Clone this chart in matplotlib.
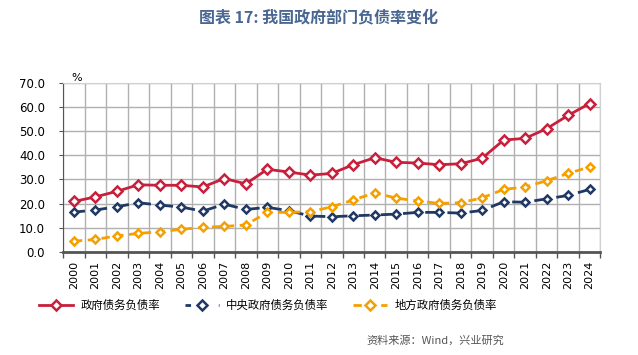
import matplotlib
matplotlib.use("Agg")
import matplotlib.pyplot as plt
from matplotlib.lines import Line2D

plt.rcParams['font.family'] = ['Noto Sans CJK SC', 'DejaVu Sans']

# 年份
years = [str(y) for y in range(2000, 2025)]

# 政府债务负债率 (%)
total_debt = [20.9, 22.8, 25.1, 27.8, 27.6, 27.6, 26.9, 30.4, 28.2, 34.2, 33.1, 31.8,
              32.5, 36.1, 39.0, 37.1, 36.8, 36.1, 36.5, 38.8, 46.3, 47.0, 51.0, 56.5, 61.4]
# 中央政府债务负债率 (%)
central_debt = [16.5, 17.4, 18.7, 20.4, 19.4, 18.6, 16.9, 19.8, 17.6, 18.5, 17.1, 14.9,
                14.6, 15.0, 15.3, 15.7, 16.4, 16.4, 16.1, 17.2, 20.8, 20.6, 22.0, 23.4, 25.9]
# 地方政府债务负债率 (%)
local_debt = [4.5, 5.2, 6.7, 7.7, 8.4, 9.4, 10.2, 10.6, 11.2, 16.4, 16.4, 16.7,
              18.7, 21.5, 24.5, 22.3, 21.1, 20.1, 20.4, 22.4, 25.9, 26.9, 29.5, 32.5, 35.2]

labels = ['政府债务负债率', '中央政府债务负债率', '地方政府债务负债率']

red = '#c8203c'
navy = '#1f3864'
orange = '#f5a000'

fig = plt.figure(figsize=(6.38, 3.55), dpi=100)
ax = fig.add_axes([0.099, 0.29, 0.842, 0.477])

x = list(range(len(years)))
ax.plot(x, total_debt, color=red, lw=2, marker='D', ms=5, mfc='white', mec=red, mew=1.8)
ax.plot(x, central_debt, color=navy, lw=2, ls=(0, (4, 4)), marker='D', ms=4.5,
        mfc='white', mec=navy, mew=1.8)
ax.plot(x, local_debt, color=orange, lw=2, ls=(0, (3, 2)), marker='D', ms=4.5,
        mfc='white', mec=orange, mew=1.8)

ax.set_xlim(-0.5, len(years) - 0.5)
ax.set_ylim(0, 70)
ax.set_yticks(range(0, 71, 10))
ax.set_yticklabels([f'{v:.1f}' for v in range(0, 71, 10)], fontsize=8.5, family='DejaVu Sans')
ax.set_xticks(x)
ax.set_xticklabels(years, rotation=90, fontsize=8, family='DejaVu Sans')
ax.set_xticks([i + 0.5 for i in range(-1, len(years))], minor=True)

ax.grid(True, which='major', axis='y', color='#b0b0b0', lw=1)
ax.grid(True, which='minor', axis='x', color='#b0b0b0', lw=1)
ax.tick_params(axis='x', which='major', length=0, pad=6)
ax.tick_params(axis='x', which='minor', length=4, width=1, color='#555555', direction='out')
ax.tick_params(axis='y', length=3, color='#555555', pad=10)
ax.set_axisbelow(True)
for s in ['top', 'right']:
    ax.spines[s].set_color('#d0d0d0')
ax.spines['left'].set_color('#555555')
ax.spines['bottom'].set_color('#555555')
ax.spines['bottom'].set_linewidth(2)

ax.text(0.015, 1.0, '%', transform=ax.transAxes, fontsize=8, va='bottom', ha='left',
        family='DejaVu Sans')

fig.text(0.5, 0.952, '图表 17: 我国政府部门负债率变化', ha='center', va='center',
         fontsize=11.5, fontweight='bold', color='#4a6791')

handles = [
    Line2D([], [], color=red, lw=2, marker='D', ms=5, mfc='white', mec=red, mew=1.8),
    Line2D([], [], color=navy, lw=2, ls=(0, (2, 4)), marker='D', ms=5, mfc='white', mec=navy, mew=1.8),
    Line2D([], [], color=orange, lw=2, ls=(0, (3, 2)), marker='D', ms=5, mfc='white', mec=orange, mew=1.8),
]
fig.legend(handles, labels, loc='center', bbox_to_anchor=(0.42, 0.14), ncol=3,
           frameon=False, fontsize=8.2, handlelength=3.0, columnspacing=2.2, handletextpad=0.6)

fig.text(0.79, 0.04, '资料来源：Wind，兴业研究', ha='right', va='center', fontsize=8,
         color='#555555')

fig.savefig('out.png', dpi=100)
